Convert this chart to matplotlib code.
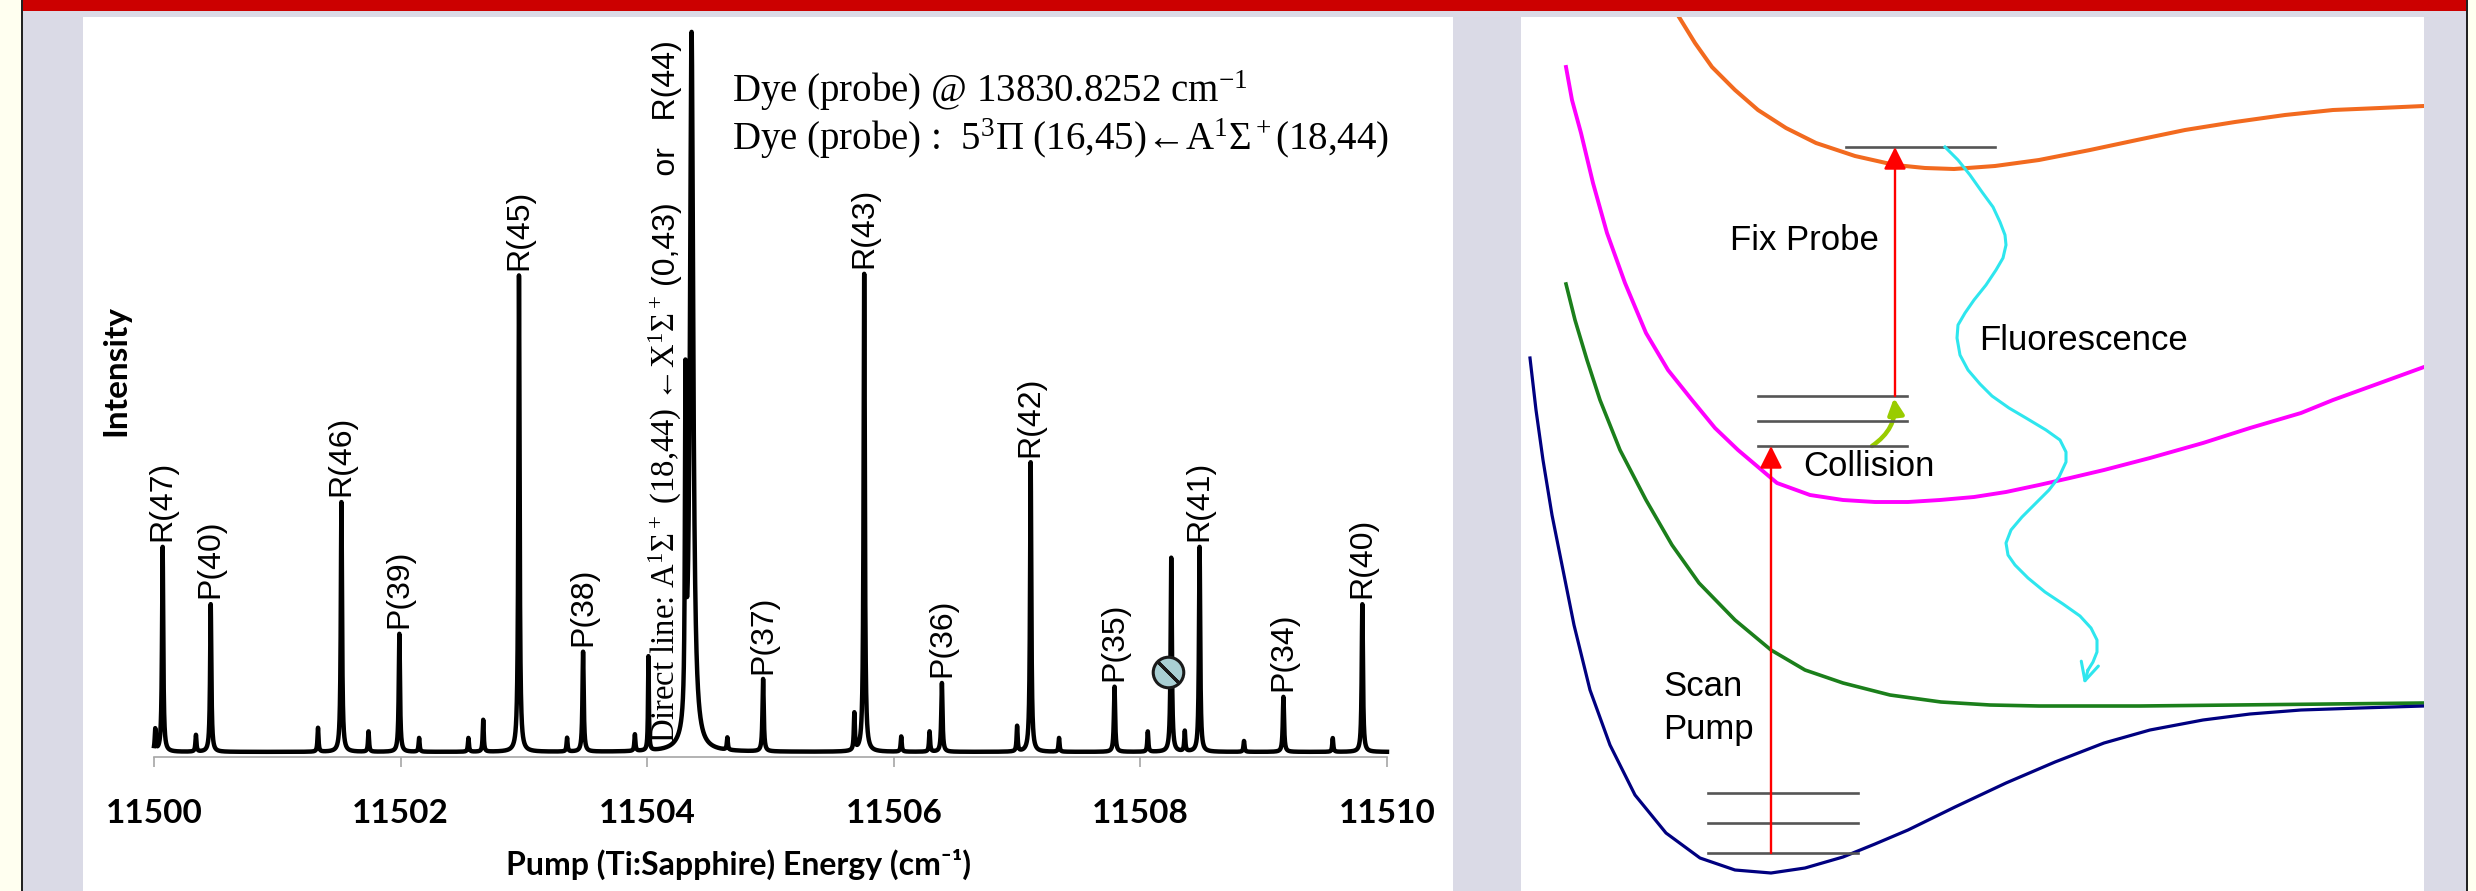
import numpy as np
import matplotlib
matplotlib.use('Agg')
import matplotlib.pyplot as plt
from matplotlib.patches import Rectangle, FancyArrowPatch

W, H = 2476, 891

# --- spectrum data ---
peak_pos = [11500.07, 11500.46, 11501.52, 11501.99, 11502.96, 11503.48, 11504.01,
            11504.31, 11504.36, 11504.94, 11505.76, 11506.39, 11507.11, 11507.79,
            11508.25, 11508.48, 11509.16, 11509.80]
peak_height = [0.283, 0.204, 0.345, 0.163, 0.658, 0.138, 0.13,
               0.45, 0.99, 0.10, 0.66, 0.095, 0.40, 0.090,
               0.268, 0.283, 0.076, 0.204]
peak_width = [0.006, 0.006, 0.006, 0.006, 0.006, 0.006, 0.004,
              0.005, 0.016, 0.006, 0.006, 0.006, 0.006, 0.006,
              0.006, 0.006, 0.006, 0.006]
peak_label = ['R(47)', 'P(40)', 'R(46)', 'P(39)', 'R(45)', 'P(38)', '',
              '', '', 'P(37)', 'R(43)', 'P(36)', 'R(42)', 'P(35)',
              '', 'R(41)', 'P(34)', 'R(40)']

minor_pos = [11500.01, 11500.34, 11501.33, 11501.74, 11502.15, 11502.55, 11502.67,
             11503.35, 11503.90, 11504.65, 11505.68, 11506.06, 11506.29, 11507.00,
             11507.34, 11508.06, 11508.36, 11508.84, 11509.56]
minor_height = [0.030, 0.023, 0.033, 0.028, 0.019, 0.019, 0.044,
                0.019, 0.023, 0.017, 0.051, 0.021, 0.028, 0.035,
                0.019, 0.028, 0.028, 0.015, 0.019]
baseline = 0.007
blocked_peak = 11508.25
xticks = [11500, 11502, 11504, 11506, 11508, 11510]

# --- energy level diagram (image pixel coordinates) ---
blue_x = [1530, 1536, 1543, 1552, 1562, 1574, 1590, 1610, 1635, 1666, 1700, 1735, 1771,
          1805, 1843, 1875, 1908, 1955, 2006, 2055, 2104, 2150, 2203, 2250, 2301, 2360, 2424]
blue_y = [358, 410, 460, 515, 565, 625, 690, 745, 795, 833, 858, 870, 873,
          868, 857, 844, 830, 807, 783, 762, 743, 730, 720, 714, 710, 708, 706]
green_x = [1566, 1575, 1587, 1600, 1620, 1646, 1672, 1699, 1735, 1771, 1805, 1843, 1890,
           1941, 1990, 2039, 2140, 2235, 2330, 2424]
green_y = [284, 320, 360, 400, 450, 500, 545, 583, 620, 650, 670, 683, 695,
           702, 705, 706, 706, 705, 704, 703]
mag_x = [1566, 1572, 1581, 1593, 1607, 1625, 1646, 1668, 1692, 1715, 1738, 1777, 1810, 1843,
         1875, 1908, 1940, 1974, 2006, 2039, 2070, 2104, 2150, 2203, 2250, 2301, 2333, 2380, 2424]
mag_y = [67, 100, 133, 183, 233, 283, 333, 370, 400, 428, 450, 483, 495, 500,
         502, 502, 500, 497, 492, 485, 478, 470, 458, 443, 428, 413, 400, 383, 367]
orange_x = [1679, 1695, 1712, 1735, 1758, 1786, 1816, 1855, 1895, 1925, 1954, 1995, 2039,
            2090, 2137, 2185, 2235, 2285, 2333, 2380, 2424]
orange_y = [17, 43, 67, 90, 110, 128, 143, 156, 165, 168, 169, 166, 160,
            150, 140, 130, 122, 115, 110, 108, 106]
cyan_x = [1945, 1958, 1970, 1982, 1993, 2000, 2005, 2006, 2003, 1996, 1986, 1974, 1965, 1958,
          1957, 1960, 1968, 1980, 1992, 2009, 2026, 2046, 2060, 2066, 2066, 2059, 2049, 2036,
          2022, 2011, 2006, 2008, 2015, 2028, 2045, 2063, 2080, 2091, 2097, 2097, 2093, 2088]
cyan_y = [147, 160, 175, 192, 207, 222, 235, 245, 258, 270, 285, 300, 313, 325,
          338, 355, 370, 384, 396, 408, 418, 430, 440, 452, 462, 477, 490, 503,
          517, 530, 543, 555, 565, 578, 592, 604, 616, 628, 640, 652, 662, 670]
cyan_tip = (2084, 684)
levels_blue = [793, 823, 853]
levels_mag = [396, 421, 446]
level_orange = 147

plt.rcParams['mathtext.fontset'] = 'custom'
plt.rcParams['mathtext.rm'] = 'Liberation Serif'
plt.rcParams['mathtext.it'] = 'Liberation Serif:italic'
plt.rcParams['mathtext.bf'] = 'Liberation Serif:bold'
plt.rcParams['mathtext.default'] = 'regular'


def fx(x):
    return x / W


def fy(y):
    return 1 - y / H


fig = plt.figure(figsize=(W / 100, H / 100), dpi=100, facecolor='#dadae6')


def box(x0, y0, x1, y1, color):
    fig.add_artist(Rectangle((fx(x0), fy(y1)), fx(x1) - fx(x0), fy(y0) - fy(y1),
                             transform=fig.transFigure, facecolor=color,
                             edgecolor='none', zorder=-5))


# frame pieces
box(0, 0, 21, H, '#fffff0')
box(2468, 0, W, H, '#fffff0')
box(21, 0, 23, H, '#222222')
box(2466, 0, 2468, H, '#222222')
box(23, 0, 2466, 11, '#cc0000')
box(83, 17, 1453, H, 'white')
box(1521, 17, 2424, H, 'white')

# ---------------- spectrum ----------------
ax = fig.add_axes([fx(154), fy(757), fx(1387) - fx(154), fy(33) - fy(757)])
ax.patch.set_alpha(0)

x = np.linspace(11500, 11510, 20001)
y = np.full_like(x, baseline)
for c, h, g in zip(peak_pos, peak_height, peak_width):
    y += h * g**2 / ((x - c)**2 + g**2)
for c, h in zip(minor_pos, minor_height):
    y += h * 0.005**2 / ((x - c)**2 + 0.005**2)
ax.plot(x, y, color='black', lw=3.2, clip_on=False, solid_joinstyle='round')

for c, h, lab in zip(peak_pos, peak_height, peak_label):
    if lab:
        ax.text(c, h + 0.015, lab, rotation=90, ha='center', va='bottom',
                fontsize=23, family='Liberation Sans')

# blocked line marker
ax.plot(blocked_peak - 0.03, 0.117, marker='o', ms=22, mfc='#a9cfd3', mec='#1a1a1a',
        mew=2.2, clip_on=False, zorder=5)
ax.plot(blocked_peak - 0.03, 0.117, marker=(2, 2, 45), ms=21, mec='#1a1a1a', mew=2.2,
        clip_on=False, zorder=6)

ax.text(11504.145, 0.02, r'Direct line: A$^1\Sigma^+$ (18,44) ←X$^1\Sigma^+$',
        rotation=90, ha='center', va='bottom', fontsize=23.5, family='Liberation Serif')
ax.text(11504.16, 0.99, '(0,43)   or   R(44)', rotation=90, ha='center', va='top',
        fontsize=23, family='Liberation Sans')

ax.set_xlim(11500, 11510)
ax.set_ylim(0, 1)
ax.set_xticks(xticks)
ax.set_yticks([])
for s in ['top', 'right', 'left']:
    ax.spines[s].set_visible(False)
ax.spines['bottom'].set_color('#a6a6a6')
ax.spines['bottom'].set_linewidth(1.2)
ax.tick_params(axis='x', direction='out', length=7.5, width=1.2, color='#a6a6a6',
               pad=23, labelsize=24)
for t in ax.get_xticklabels():
    t.set_family(['Lato', 'DejaVu Sans'])
    t.set_fontweight('bold')
ax.text(0.474, -0.149, 'Pump (Ti:Sapphire) Energy (cm⁻¹)', transform=ax.transAxes,
        ha='center', va='center', fontsize=23, fontweight='bold', family=['Lato', 'DejaVu Sans'])
fig.text(fx(116), fy(370), 'Intensity', rotation=90, ha='center', va='center',
         fontsize=24, fontweight='bold', family=['Lato', 'DejaVu Sans'])

fig.text(fx(732), fy(102), r'Dye (probe) @ 13830.8252 cm$^{-1}$', ha='left', va='baseline',
         fontsize=28, family='Liberation Serif')
fig.text(fx(732), fy(150), r'Dye (probe) :  5$^3\Pi$ (16,45)←A$^1\Sigma^+$(18,44)',
         ha='left', va='baseline', fontsize=28, family='Liberation Serif')

# ---------------- potential curves ----------------
ax2 = fig.add_axes([fx(1521), fy(H), fx(2424) - fx(1521), fy(17) - fy(H)])
ax2.set_xlim(1521, 2424)
ax2.set_ylim(H, 17)
ax2.axis('off')

ax2.plot(orange_x, orange_y, color='#f26a1f', lw=2.9)
ax2.plot(mag_x, mag_y, color='#ff00ff', lw=2.8)
ax2.plot(green_x, green_y, color='#1b7f1b', lw=2.6)
ax2.plot(blue_x, blue_y, color='#000080', lw=2.3)

for lv in levels_blue:
    ax2.plot([1708, 1858], [lv, lv], color='#555555', lw=1.9)
for lv in levels_mag:
    ax2.plot([1758, 1907], [lv, lv], color='#555555', lw=1.9)
ax2.plot([1846, 1995], [level_orange, level_orange], color='#555555', lw=1.9)

ax2.annotate('', xy=(1771, 446), xytext=(1771, 853),
             arrowprops=dict(arrowstyle='-|>', color='#ff0000', lw=1.7, mutation_scale=34,
                             shrinkA=0, shrinkB=0))
ax2.annotate('', xy=(1895, 147), xytext=(1895, 396),
             arrowprops=dict(arrowstyle='-|>', color='#ff0000', lw=1.7, mutation_scale=34,
                             shrinkA=0, shrinkB=0))
ax2.add_patch(FancyArrowPatch((1872, 446), (1894, 398), connectionstyle='arc3,rad=0.3',
                              arrowstyle='-|>', mutation_scale=24, color='#99cc00', lw=3.2,
                              shrinkA=0, shrinkB=0))

ax2.plot(cyan_x, cyan_y, color='#2ee6ee', lw=2.2)
ax2.annotate('', xy=cyan_tip, xytext=(cyan_x[-1], cyan_y[-1]),
             arrowprops=dict(arrowstyle='->', color='#2ee6ee', lw=2.2, mutation_scale=32,
                             shrinkA=0, shrinkB=0))

ax2.text(1804, 240, 'Fix Probe', ha='center', va='center', fontsize=25, family='Liberation Sans')
ax2.text(2084, 340, 'Fluorescence', ha='center', va='center', fontsize=25, family='Liberation Sans')
ax2.text(1869, 467, 'Collision', ha='center', va='center', fontsize=25, family='Liberation Sans')
ax2.text(1663, 687, 'Scan', ha='left', va='center', fontsize=25, family='Liberation Sans')
ax2.text(1663, 730, 'Pump', ha='left', va='center', fontsize=25, family='Liberation Sans')

fig.savefig('out.png', dpi=100, facecolor=fig.get_facecolor())
